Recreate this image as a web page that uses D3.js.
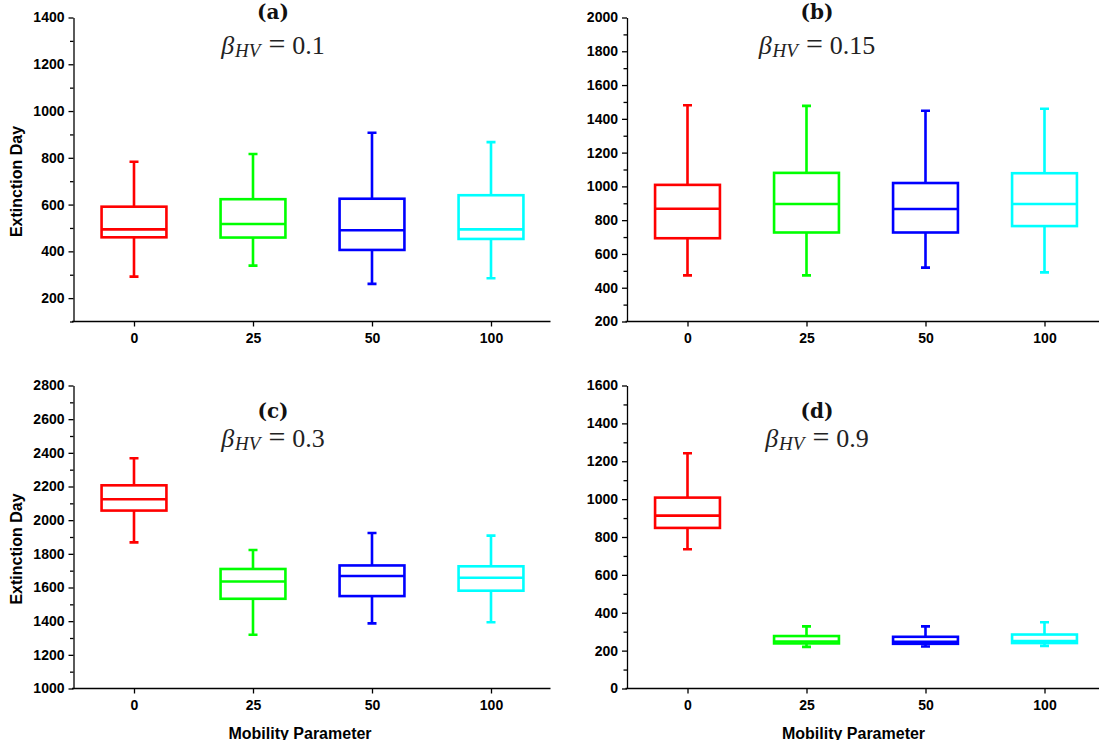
<!DOCTYPE html>
<html>
<head>
<meta charset="utf-8">
<script src="https://cdn.jsdelivr.net/npm/d3@7"></script>
<style>
    body { margin: 0; background: #fff; }
    svg { display: block; }
    .tick text { font-family: "Liberation Sans", Arial, sans-serif; font-weight: bold; font-size: 14px; fill: #000; }
    .tick line, .domain { stroke: #000; stroke-width: 1.3px; }
</style>
</head>
<body>
<div id="chart"></div>
<script>
/* mobility parameter on the x axis, same for all four panels */
const categories = ['0', '25', '50', '100'];
const colors = ['#ff0000', '#00ff00', '#0000ff', '#00ffff'];

const panelLetters = ['(a)', '(b)', '(c)', '(d)'];
const betaValues = ['0.1', '0.15', '0.3', '0.9'];

const yDomains = [[100, 1400], [200, 2000], [1000, 2800], [0, 1600]];
const ticksA = [200, 400, 600, 800, 1000, 1200, 1400];
const ticksB = [200, 400, 600, 800, 1000, 1200, 1400, 1600, 1800, 2000];
const ticksC = [1000, 1200, 1400, 1600, 1800, 2000, 2200, 2400, 2600, 2800];
const ticksD = [0, 200, 400, 600, 800, 1000, 1200, 1400, 1600];

/* [min, q1, median, q3, max] per category */
const statsA = [[292, 460, 494, 591, 783], [339, 459, 517, 623, 816], [261, 406, 490, 625, 907], [285, 453, 494, 640, 867]];
const statsB = [[473, 693, 868, 1009, 1480], [473, 727, 896, 1080, 1477], [519, 727, 866, 1020, 1448], [491, 765, 896, 1078, 1460]];
const statsC = [[1868, 2057, 2124, 2207, 2368], [1319, 1533, 1636, 1710, 1823], [1387, 1549, 1668, 1731, 1924], [1394, 1581, 1658, 1726, 1908]];
const statsD = [[735, 848, 913, 1008, 1242], [220, 238, 248, 277, 328], [222, 236, 246, 273, 328], [225, 240, 250, 285, 350]];

const allTicks = [ticksA, ticksB, ticksC, ticksD];
const allStats = [statsA, statsB, statsC, statsD];

const wSvg = 1099;
const hSvg = 747;

const layout = [
    { ax: 73.5, xEnd: 550.5, top: 17.5, bottom: 321.5, titleX: 273, letterY: 18.5, betaY: 53.5, yLabel: true, xLabel: false },
    { ax: 627, xEnd: 1104, top: 17.5, bottom: 321.5, titleX: 817, letterY: 18.5, betaY: 53.5, yLabel: false, xLabel: false },
    { ax: 73.5, xEnd: 550.5, top: 385.5, bottom: 688.5, titleX: 273, letterY: 417.5, betaY: 446.5, yLabel: true, xLabel: true },
    { ax: 627, xEnd: 1104, top: 385.5, bottom: 688.5, titleX: 817, letterY: 417.5, betaY: 446.5, yLabel: false, xLabel: true }
];

const svg = d3.select('#chart').append('svg')
    .attr('width', wSvg)
    .attr('height', hSvg);

svg.append('rect')
    .attr('width', wSvg)
    .attr('height', hSvg)
    .attr('fill', '#fff');

/* the original figure is cut off just under the x titles */
svg.append('clipPath')
    .attr('id', 'pageClip')
    .append('rect')
    .attr('width', wSvg)
    .attr('height', 740);

layout.forEach((p, k) => {
    const g = svg.append('g');

    const xScale = d3.scalePoint(categories, [p.ax + 1, p.ax + 477]).padding(0.5);
    const yScale = d3.scaleLinear(yDomains[k], [p.bottom, p.top]);
    const boxW = xScale.step() * 0.545;
    const capW = 9;

    // minor ticks every 100
    const minor = d3.range(yDomains[k][0], yDomains[k][1] + 1, 100)
        .filter(v => !allTicks[k].includes(v));

    g.append('g')
        .attr('transform', `translate(${p.ax}, 0)`)
        .call(d3.axisLeft(yScale).tickValues(minor).tickSize(3.5).tickFormat(''))
        .call(a => a.select('.domain').remove());

    g.append('g')
        .attr('transform', `translate(${p.ax}, 0)`)
        .call(d3.axisLeft(yScale).tickValues(allTicks[k]).tickFormat(d3.format('d'))
            .tickSize(5).tickSizeOuter(0).tickPadding(4));

    const xAxis = g.append('g')
        .attr('transform', `translate(0, ${p.bottom})`)
        .call(d3.axisBottom(xScale).tickSize(5).tickSizeOuter(0).tickPadding(6.5));
    xAxis.select('.domain').attr('d', `M${p.ax - 1.5},0H${p.xEnd}`);

    const boxes = g.append('g')
        .selectAll('g')
        .data(allStats[k])
        .enter()
        .append('g')
            .attr('fill', 'none')
            .attr('stroke', (d, i) => colors[i])
            .attr('stroke-width', 2.6);

    // whiskers
    boxes.append('path')
        .attr('d', (d, i) => {
            const cx = xScale(categories[i]);
            return `M${cx},${yScale(d[3])}V${yScale(d[4])}M${cx},${yScale(d[1])}V${yScale(d[0])}`
                + `M${cx - capW / 2},${yScale(d[4])}H${cx + capW / 2}`
                + `M${cx - capW / 2},${yScale(d[0])}H${cx + capW / 2}`;
        });

    boxes.append('rect')
        .attr('x', (d, i) => xScale(categories[i]) - boxW / 2)
        .attr('y', d => yScale(d[3]))
        .attr('width', boxW)
        .attr('height', d => yScale(d[1]) - yScale(d[3]));

    boxes.append('line')
        .attr('x1', (d, i) => xScale(categories[i]) - boxW / 2)
        .attr('x2', (d, i) => xScale(categories[i]) + boxW / 2)
        .attr('y1', d => yScale(d[2]))
        .attr('y2', d => yScale(d[2]));

    g.append('text')
        .attr('x', p.titleX)
        .attr('y', p.letterY)
        .attr('text-anchor', 'middle')
        .style('font-family', '"DejaVu Serif", serif')
        .style('font-weight', 'bold')
        .style('font-size', '20px')
        .style('fill', '#111')
        .text(panelLetters[k]);

    const beta = g.append('text')
        .attr('x', p.titleX)
        .attr('y', p.betaY)
        .attr('text-anchor', 'middle')
        .style('font-family', '"Liberation Serif", serif')
        .style('font-size', '26px')
        .style('fill', '#222');
    beta.append('tspan').style('font-style', 'italic').text('β');
    beta.append('tspan').style('font-style', 'italic').style('font-size', '19px').attr('dy', 3).attr('dx', 1).text('HV');
    beta.append('tspan').attr('dy', -3).attr('dx', 8).style('font-size', '30px').text('=');
    beta.append('tspan').attr('dx', 7).text(betaValues[k]);

    if (p.yLabel) {
        g.append('text')
            .attr('transform', 'rotate(-90)')
            .attr('x', -((p.top + p.bottom) / 2 + 12))
            .attr('y', 21.5)
            .attr('text-anchor', 'middle')
            .style('font-family', '"Liberation Sans", Arial, sans-serif')
            .style('font-weight', 'bold')
            .style('font-size', '16px')
            .text('Extinction Day');
    }

    if (p.xLabel) {
        g.append('text')
            .attr('x', p.ax + 226.5)
            .attr('y', 738.5)
            .attr('clip-path', 'url(#pageClip)')
            .attr('text-anchor', 'middle')
            .style('font-family', '"Liberation Sans", Arial, sans-serif')
            .style('font-weight', 'bold')
            .style('font-size', '16px')
            .text('Mobility Parameter');
    }
});
</script>
</body>
</html>
